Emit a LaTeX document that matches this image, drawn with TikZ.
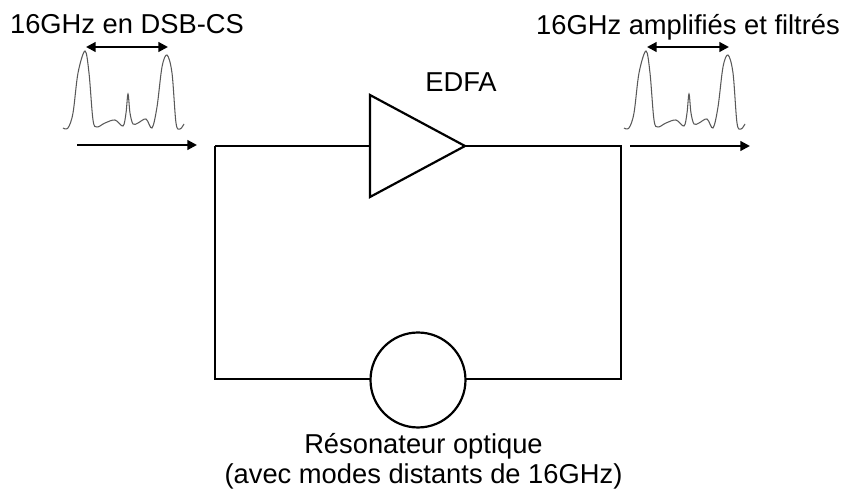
\documentclass[tikz,border=0pt]{standalone}
\usepackage{fontspec}
\setmainfont{Liberation Sans}
\usetikzlibrary{shapes.geometric, calc}
\usetikzlibrary{arrows.meta}
\tikzset{
  wire/.style={line width=1.25pt, black},
  fleche/.style={line width=1.25pt, -{Triangle[length=5.5pt,width=5.5pt]}},
  dfleche/.style={line width=1.25pt, {Triangle[length=5.5pt,width=5.5pt]}-{Triangle[length=5.5pt,width=5.5pt]}},
  lbl/.style={font=\fontsize{15.55}{17}\selectfont, inner sep=0pt, align=center},
  spectre/.pic={
    \draw[line width=0.6pt, black!65] plot[smooth, tension=0.55] coordinates {
      (63,128) (68,128) (73,113) (78,73) (85,51) (89,73) (93,120) (97,127) (105,123) (115,120)
      (123,126) (126,113) (128,94) (130,113) (133,124) (138,123) (146,119) (152,128) (157,107)
      (162,67) (167,55) (172,73) (176,123) (180,129) (184,124)};
  }
}
\begin{document}
\begin{tikzpicture}[x=0.02cm, y=-0.02cm]
\useasboundingbox (0,0) rectangle (843,496);
\node[draw, line width=1.25pt, isosceles triangle, isosceles triangle stretches, shape border rotate=0,
  minimum width=2.04cm, minimum height=1.9cm, inner sep=0pt, outer sep=0pt, anchor=apex] (edfa) at (465,146) {};
\node[draw, line width=1.25pt, circle, minimum size=1.9cm, inner sep=0pt, outer sep=0pt] (reso) at (418,380) {};
\coordinate (hg) at (215,146);
\coordinate (bg) at (215,379);
\coordinate (hd) at (621,146);
\coordinate (bd) at (621,379);
\draw[wire] (hg) -- (edfa.west |- hg);
\draw[wire] (edfa.apex) -- (hd) -- (bd) -- (reso.east |- bd);
\draw[wire] (reso.west |- bg) -- (bg) -- (hg);
\node[lbl, anchor=base] (edfat) at (461,92) {EDFA};
\node[lbl, anchor=base] (entree) at (127,33.5) {16GHz en DSB-CS};
\node[lbl, anchor=base] (sortie) at (688,35) {16GHz amplifiés et filtrés};
\node[lbl] (resot) at (423.5,461) {Résonateur optique\\(avec modes distants de 16GHz)};
% spectres
\pic at (0,0) {spectre};
\pic at (561,0) {spectre};
\coordinate (e1) at (77,145);
\coordinate (e2) at (197,145);
\coordinate (s1) at (630,146);
\coordinate (s2) at (750,146);
\coordinate (d1) at (86,47);
\coordinate (d2) at (168,47);
\coordinate (d3) at (647,47);
\coordinate (d4) at (729,47);
\draw[fleche] (e1) -- (e2);
\draw[fleche] (s1) -- (s2);
\draw[dfleche] (d1) -- (d2);
\draw[dfleche] (d3) -- (d4);
\end{tikzpicture}
\end{document}
